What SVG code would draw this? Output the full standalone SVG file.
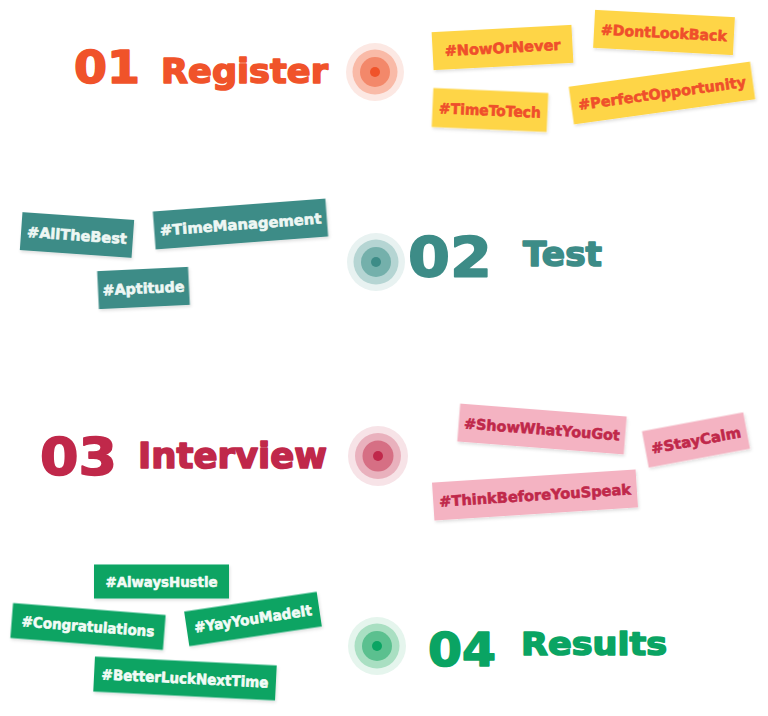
<svg xmlns="http://www.w3.org/2000/svg" width="768" height="716" viewBox="0 0 768 716">
  <defs>
    <filter id="tagShadow" x="-10%" y="-30%" width="120%" height="160%">
      <feDropShadow dx="1" dy="2" stdDeviation="1.5" flood-color="#000" flood-opacity="0.12"/>
    </filter>
  </defs>
  <style>
    .head { font-family: "DejaVu Sans", "Liberation Sans", sans-serif; font-weight: bold; stroke-width: 1.6; stroke-linejoin: round; }
    .tag text { font-family: "DejaVu Sans", "Liberation Sans", sans-serif; font-weight: bold; font-size: 14.5px; text-anchor: middle; stroke-width: 0.6; stroke-linejoin: round; }
    .tag rect { filter: url(#tagShadow); }
    .orange { fill: #f0532a; stroke: #f0532a; }
    .teal { fill: #3d8c87; stroke: #3d8c87; }
    .crimson { fill: #c0284a; stroke: #c0284a; }
    .green { fill: #0aa463; stroke: #0aa463; }
    .yellowTag rect { fill: #fed547; }
    .yellowTag text { fill: #ef4f2b; stroke: #ef4f2b; }
    .tealTag rect { fill: #3d8c87; }
    .tealTag text { fill: #eef7f4; stroke: #eef7f4; }
    .pinkTag rect { fill: #f4b3c2; }
    .pinkTag text { fill: #c0284a; stroke: #c0284a; }
    .greenTag rect { fill: #0aa463; }
    .greenTag text { fill: #f2fbf6; stroke: #f2fbf6; }
  </style>
  <rect width="768" height="716" fill="#ffffff"/>

  <!-- Step 1: Register -->
  <g id="step-register">
    <text class="head orange" x="74" y="83" font-size="45" textLength="66" lengthAdjust="spacingAndGlyphs">01</text>
    <text class="head orange" x="161" y="83" font-size="34" textLength="167" lengthAdjust="spacingAndGlyphs">Register</text>
    <circle cx="375" cy="72" r="29" fill="#fce8e3"/>
    <circle cx="375" cy="72" r="22.5" fill="#f9baa7"/>
    <circle cx="375" cy="72" r="15" fill="#f3886a"/>
    <circle cx="375" cy="72" r="5" fill="#f0532a"/>
  </g>
  <g id="tag-now-or-never" class="tag yellowTag" transform="translate(502.5 47.5) rotate(-3)">
    <rect x="-70" y="-19" width="140" height="38"/>
    <text x="0" y="5.5" textLength="116" lengthAdjust="spacingAndGlyphs">#NowOrNever</text>
  </g>
  <g id="tag-dont-look-back" class="tag yellowTag" transform="translate(664 32.5) rotate(3)">
    <rect x="-70" y="-19" width="140" height="38"/>
    <text x="0" y="5.5" textLength="126" lengthAdjust="spacingAndGlyphs">#DontLookBack</text>
  </g>
  <g id="tag-time-to-tech" class="tag yellowTag" transform="translate(490 110) rotate(2.5)">
    <rect x="-57.5" y="-19.5" width="115" height="39"/>
    <text x="0" y="5.5" textLength="102" lengthAdjust="spacingAndGlyphs">#TimeToTech</text>
  </g>
  <g id="tag-perfect-opportunity" class="tag yellowTag" transform="translate(662 93) rotate(-7.9)">
    <rect x="-91.5" y="-19" width="183" height="38"/>
    <text x="0" y="5.5" textLength="169" lengthAdjust="spacingAndGlyphs">#PerfectOpportunity</text>
  </g>

  <!-- Step 2: Test -->
  <g id="step-test">
    <circle cx="376" cy="262" r="29" fill="#e8f2f1"/>
    <circle cx="376" cy="262" r="22.5" fill="#b5d5d3"/>
    <circle cx="376" cy="262" r="15" fill="#74b0ab"/>
    <circle cx="376" cy="262" r="5" fill="#3d8c87"/>
    <text class="head teal" x="408" y="276" font-size="55" textLength="84" lengthAdjust="spacingAndGlyphs">02</text>
    <text class="head teal" x="523" y="266" font-size="33" textLength="79" lengthAdjust="spacingAndGlyphs">Test</text>
  </g>
  <g id="tag-all-the-best" class="tag tealTag" transform="translate(77 235) rotate(4)">
    <rect x="-56" y="-19" width="112" height="38"/>
    <text x="0" y="5.5" textLength="100" lengthAdjust="spacingAndGlyphs">#AllTheBest</text>
  </g>
  <g id="tag-time-management" class="tag tealTag" transform="translate(240.5 224) rotate(-4.3)">
    <rect x="-86.5" y="-19" width="173" height="38"/>
    <text x="0" y="5.5" textLength="162" lengthAdjust="spacingAndGlyphs">#TimeManagement</text>
  </g>
  <g id="tag-aptitude" class="tag tealTag" transform="translate(143.5 288) rotate(-2.7)">
    <rect x="-45.5" y="-19" width="91" height="38"/>
    <text x="0" y="5.5" textLength="82" lengthAdjust="spacingAndGlyphs">#Aptitude</text>
  </g>

  <!-- Step 3: Interview -->
  <g id="step-interview">
    <text class="head crimson" x="40" y="475" font-size="51" textLength="77" lengthAdjust="spacingAndGlyphs">03</text>
    <text class="head crimson" x="138" y="468" font-size="35" textLength="189" lengthAdjust="spacingAndGlyphs">Interview</text>
    <circle cx="378" cy="456" r="30" fill="#f7e3e7"/>
    <circle cx="378" cy="456" r="23" fill="#e9b1bd"/>
    <circle cx="378" cy="456" r="15.5" fill="#d66f84"/>
    <circle cx="378" cy="456" r="5" fill="#c0284a"/>
  </g>
  <g id="tag-show-what-you-got" class="tag pinkTag" transform="translate(542 429) rotate(4.45)">
    <rect x="-83.5" y="-19" width="167" height="38"/>
    <text x="0" y="5.5" textLength="156" lengthAdjust="spacingAndGlyphs">#ShowWhatYouGot</text>
  </g>
  <g id="tag-stay-calm" class="tag pinkTag" transform="translate(696 440) rotate(-10.6)">
    <rect x="-51.5" y="-18.5" width="103" height="37"/>
    <text x="0" y="5.5" textLength="91" lengthAdjust="spacingAndGlyphs">#StayCalm</text>
  </g>
  <g id="tag-think-before-you-speak" class="tag pinkTag" transform="translate(535 495) rotate(-3.7)">
    <rect x="-102" y="-19" width="204" height="38"/>
    <text x="0" y="5.5" textLength="192" lengthAdjust="spacingAndGlyphs">#ThinkBeforeYouSpeak</text>
  </g>

  <!-- Step 4: Results -->
  <g id="step-results">
    <circle cx="377" cy="646" r="29" fill="#e5f5ed"/>
    <circle cx="377" cy="646" r="22.5" fill="#a9dfc2"/>
    <circle cx="377" cy="646" r="15" fill="#5bc08f"/>
    <circle cx="377" cy="646" r="5" fill="#0aa463"/>
    <text class="head green" x="428" y="666" font-size="47" textLength="68" lengthAdjust="spacingAndGlyphs">04</text>
    <text class="head green" x="521" y="655" font-size="32" textLength="146" lengthAdjust="spacingAndGlyphs">Results</text>
  </g>
  <g id="tag-always-hustle" class="tag greenTag" transform="translate(161.5 581.5)">
    <rect x="-67.5" y="-17" width="135" height="34"/>
    <text x="0" y="5" textLength="112" lengthAdjust="spacingAndGlyphs">#AlwaysHustle</text>
  </g>
  <g id="tag-congratulations" class="tag greenTag" transform="translate(88 626.5) rotate(4.5)">
    <rect x="-76.5" y="-17.5" width="153" height="35"/>
    <text x="0" y="5" textLength="133" lengthAdjust="spacingAndGlyphs">#Congratulations</text>
  </g>
  <g id="tag-yay-you-made-it" class="tag greenTag" transform="translate(253 619) rotate(-8.5)">
    <rect x="-67" y="-17.5" width="134" height="35"/>
    <text x="0" y="5" textLength="119" lengthAdjust="spacingAndGlyphs">#YayYouMadeIt</text>
  </g>
  <g id="tag-better-luck-next-time" class="tag greenTag" transform="translate(185 678.5) rotate(2.8)">
    <rect x="-91" y="-17.5" width="182" height="35"/>
    <text x="0" y="5" textLength="167" lengthAdjust="spacingAndGlyphs">#BetterLuckNextTime</text>
  </g>
</svg>
